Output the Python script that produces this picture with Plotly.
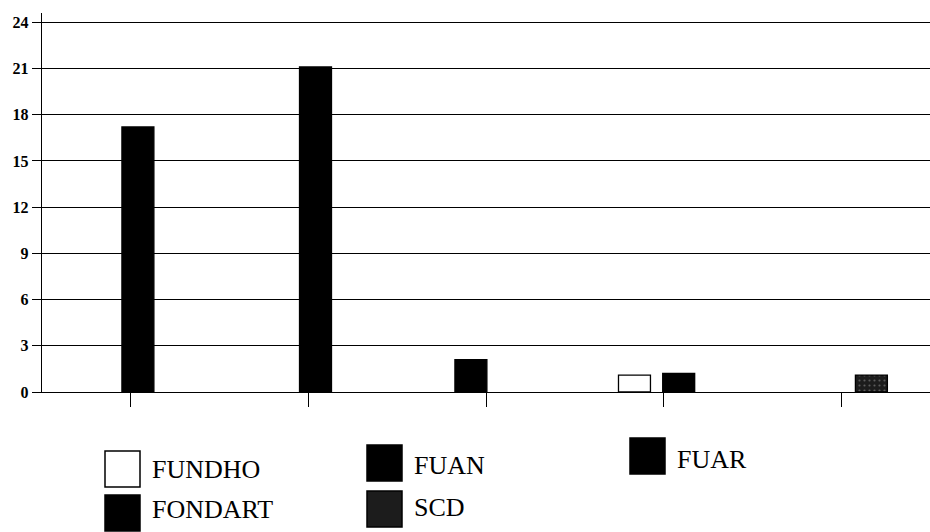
import plotly.graph_objects as go

# ---------------- data ----------------
categories = [1, 2, 3, 4, 5]          # unlabeled category groups
series_names = ["FUNDHO", "FONDART", "FUAN", "SCD", "FUAR"]
fundho = [None, None, None, 1.1, None]
fondart = [17.2, 21.1, None, None, None]
fuan = [None, None, 2.1, None, None]
scd = [None, None, None, None, 1.1]
fuar = [None, None, None, 1.2, None]
y_ticks = [0, 3, 6, 9, 12, 15, 18, 21, 24]

# ---------------- style ----------------
W, H = 930, 532
ML, MR, MT, MB = 42, 0, 13, 140
BAR_W = 0.18
style = {
    "FUNDHO": dict(color="white", offset=-0.254),
    "FONDART": dict(color="black", offset=-0.05),
    "FUAN": dict(color="black", offset=-0.175),
    "SCD": dict(color="#1c1c1c", offset=0.08),
    "FUAR": dict(color="black", offset=-0.005),
}
values = {"FUNDHO": fundho, "FONDART": fondart, "FUAN": fuan, "SCD": scd, "FUAR": fuar}

fig = go.Figure()
for name in series_names:
    st = style[name]
    marker = dict(color=st["color"], line=dict(color="black", width=1.3))
    if name == "SCD":
        marker["pattern"] = dict(shape=".", bgcolor="#1c1c1c", fgcolor="#9a9a9a",
                                 size=5, solidity=0.15, fillmode="overlay")
    fig.add_trace(go.Bar(
        x=categories, y=values[name], name=name,
        width=BAR_W, offset=st["offset"], marker=marker, showlegend=False,
    ))

font_serif = "Liberation Serif, Times New Roman, serif"

fig.update_layout(
    width=W, height=H,
    margin=dict(l=ML, r=MR, t=MT, b=MB, pad=0, autoexpand=False),
    paper_bgcolor="white", plot_bgcolor="white",
    barmode="overlay",
    xaxis=dict(
        range=[0.5, 5.5], tickvals=categories, showticklabels=False,
        ticks="outside", ticklen=14, tickwidth=1.3, tickcolor="black",
        showgrid=False, zeroline=False, showline=True, linecolor="black", linewidth=1.4,
        automargin=False,
    ),
    yaxis=dict(
        range=[0, 24.6], tickvals=y_ticks, ticktext=[str(v) for v in y_ticks],
        ticks="outside", ticklen=9, tickwidth=1.3, tickcolor="black",
        tickfont=dict(family=font_serif, size=16, color="black", weight="bold"),
        showgrid=True, gridcolor="black", gridwidth=1.4,
        zeroline=False, showline=True, linecolor="black", linewidth=1.4,
        automargin=False,
    ),
)

# ---------------- manual legend (large swatches, like the original) ----------------
pw = W - ML - MR
ph = H - MT - MB


def px(xp):
    return (xp - ML) / pw


def py(yp):
    return (H - MB - yp) / ph


legend_pos = {  # swatch left, swatch top, text centre (pixels)
    "FUNDHO": (105, 451, 469),
    "FONDART": (105, 495, 509),
    "FUAN": (367, 445, 465),
    "SCD": (367, 491, 507),
    "FUAR": (630, 438, 459),
}
SW, SH = 35, 36
for name in series_names:
    x0, y0, ty = legend_pos[name]
    fill = style[name]["color"]
    fig.add_shape(type="rect", xref="paper", yref="paper",
                  x0=px(x0), x1=px(x0 + SW), y0=py(y0 + SH), y1=py(y0),
                  fillcolor=fill, line=dict(color="black", width=1.5))
    fig.add_annotation(xref="paper", yref="paper", x=px(x0 + SW + 10), y=py(ty),
                       text=name, showarrow=False, xanchor="left", yanchor="middle",
                       font=dict(family=font_serif, size=26, color="black"))

fig.write_html(
    "out.html",
    config={"displayModeBar": False},
    post_script="document.body.style.margin='0px';document.body.style.overflow='hidden';",
)
